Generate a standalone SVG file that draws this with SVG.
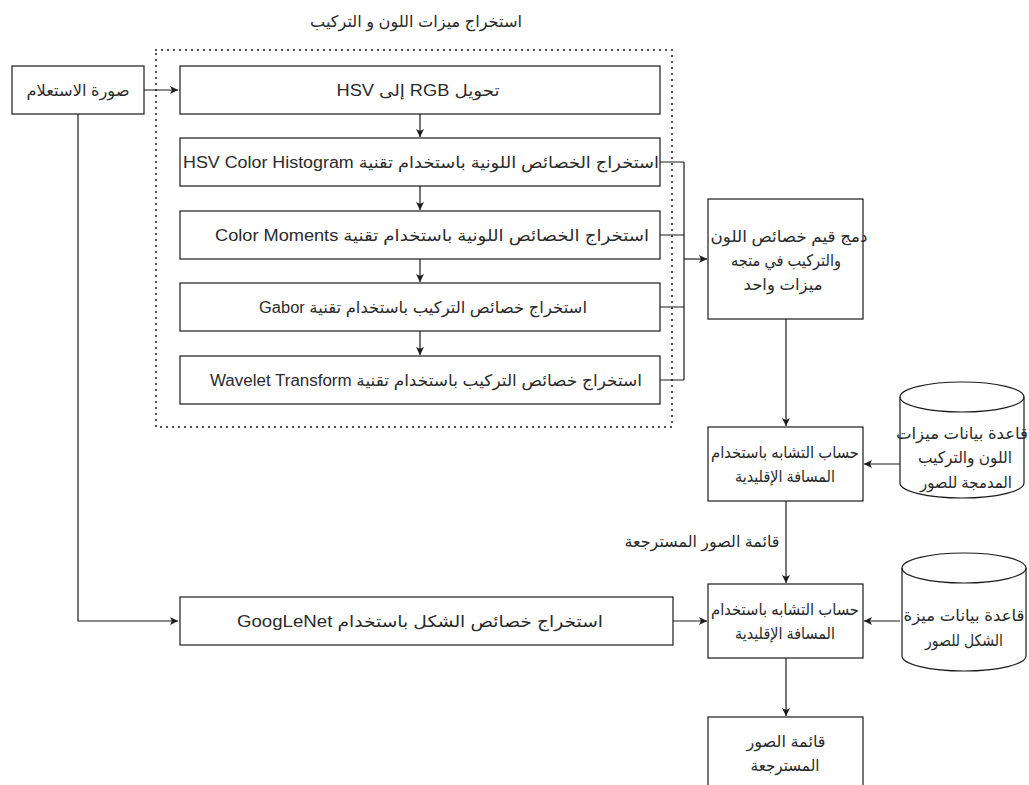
<svg xmlns="http://www.w3.org/2000/svg" width="1029" height="785" viewBox="0 0 1029 785">
<style>
.b{fill:#fff;stroke:#1a1a1a;stroke-width:1.2}
.c{fill:none;stroke:#1a1a1a;stroke-width:1.2}
.t{font-family:"Liberation Sans","DejaVu Sans",sans-serif;font-size:16px;fill:#2a2a2a;text-anchor:middle;dominant-baseline:central}
</style>
<defs>
<marker id="a" viewBox="0 0 10 10" refX="10" refY="5" markerWidth="8" markerHeight="8" markerUnits="userSpaceOnUse" orient="auto">
<path d="M0,0 L10,5 L0,10 L2.5,5 z" fill="#1a1a1a"/>
</marker>
</defs>
<rect width="1029" height="785" fill="#fff"/>
<g id="container">
<rect x="156" y="50" width="516" height="377" fill="none" stroke="#1a1a1a" stroke-width="2" stroke-dasharray="0 6" stroke-linecap="round"/>
<text class="t" x="416" y="21" direction="rtl" textLength="212" lengthAdjust="spacingAndGlyphs">استخراج ميزات اللون و التركيب</text>
</g>
<g id="connectors">
<path class="c" d="M144,90 H178" marker-end="url(#a)"/>
<path class="c" d="M78,114 V621 H178" marker-end="url(#a)"/>
<path class="c" d="M420,114 V137" marker-end="url(#a)"/>
<path class="c" d="M420,186 V210" marker-end="url(#a)"/>
<path class="c" d="M420,259 V282" marker-end="url(#a)"/>
<path class="c" d="M420,331 V355" marker-end="url(#a)"/>
<path class="c" d="M660,162 H684 M660,235 H684 M660,307 H684 M660,380 H684 M684,162 V380"/>
<path class="c" d="M684,259 H707" marker-end="url(#a)"/>
<path class="c" d="M786,319 V426" marker-end="url(#a)"/>
<path class="c" d="M786,501 V583" marker-end="url(#a)"/>
<text class="t" x="702" y="541" direction="rtl" textLength="155" lengthAdjust="spacingAndGlyphs">قائمة الصور المسترجعة</text>
<path class="c" d="M673,621 H707" marker-end="url(#a)"/>
<path class="c" d="M786,658 V716" marker-end="url(#a)"/>
<path class="c" d="M900,464 H864" marker-end="url(#a)"/>
<path class="c" d="M900,621 H864" marker-end="url(#a)"/>
</g>
<g id="query">
<rect class="b" x="12" y="66" width="132" height="48"/>
<text class="t" x="78" y="90" direction="rtl" textLength="103" lengthAdjust="spacingAndGlyphs">صورة الاستعلام</text>
</g>
<g id="rgb2hsv">
<rect class="b" x="180" y="66" width="480" height="48"/>
<text class="t" x="418" y="90" direction="rtl" textLength="163" lengthAdjust="spacingAndGlyphs">تحويل RGB إلى HSV</text>
</g>
<g id="histogram">
<rect class="b" x="180" y="138" width="480" height="48"/>
<text class="t" x="421" y="162" direction="rtl" textLength="476" lengthAdjust="spacingAndGlyphs">استخراج الخصائص اللونية باستخدام تقنية HSV Color Histogram</text>
</g>
<g id="moments">
<rect class="b" x="180" y="211" width="480" height="48"/>
<text class="t" x="432" y="235" direction="rtl" textLength="434" lengthAdjust="spacingAndGlyphs">استخراج الخصائص اللونية باستخدام تقنية Color Moments</text>
</g>
<g id="gabor">
<rect class="b" x="180" y="283" width="480" height="48"/>
<text class="t" x="423" y="307" direction="rtl" textLength="328" lengthAdjust="spacingAndGlyphs">استخراج خصائص التركيب باستخدام تقنية Gabor</text>
</g>
<g id="wavelet">
<rect class="b" x="180" y="356" width="480" height="48"/>
<text class="t" x="426" y="380" direction="rtl" textLength="432" lengthAdjust="spacingAndGlyphs">استخراج خصائص التركيب باستخدام تقنية Wavelet Transform</text>
</g>
<g id="googlenet">
<rect class="b" x="180" y="597" width="493" height="48"/>
<text class="t" x="420" y="621" direction="rtl" textLength="366" lengthAdjust="spacingAndGlyphs">استخراج خصائص الشكل باستخدام GoogLeNet</text>
</g>
<g id="combine">
<rect class="b" x="708" y="199" width="155" height="120"/>
<text class="t" x="789" y="236" direction="rtl" textLength="157" lengthAdjust="spacingAndGlyphs">دمج قيم خصائص اللون</text>
<text class="t" x="786" y="260" direction="rtl" textLength="110" lengthAdjust="spacingAndGlyphs">والتركيب في متجه</text>
<text class="t" x="783" y="284" direction="rtl" textLength="79" lengthAdjust="spacingAndGlyphs">ميزات واحد</text>
</g>
<g id="similarity1">
<rect class="b" x="708" y="427" width="155" height="74"/>
<text class="t" x="785" y="452" direction="rtl" textLength="148" lengthAdjust="spacingAndGlyphs">حساب التشابه باستخدام</text>
<text class="t" x="785" y="476" direction="rtl" textLength="100" lengthAdjust="spacingAndGlyphs">المسافة الإقليدية</text>
</g>
<g id="similarity2">
<rect class="b" x="708" y="584" width="155" height="74"/>
<text class="t" x="785" y="609" direction="rtl" textLength="148" lengthAdjust="spacingAndGlyphs">حساب التشابه باستخدام</text>
<text class="t" x="785" y="633" direction="rtl" textLength="100" lengthAdjust="spacingAndGlyphs">المسافة الإقليدية</text>
</g>
<g id="result">
<rect class="b" x="708" y="717" width="155" height="74"/>
<text class="t" x="786" y="741" direction="rtl" textLength="79" lengthAdjust="spacingAndGlyphs">قائمة الصور</text>
<text class="t" x="785" y="765" direction="rtl" textLength="69" lengthAdjust="spacingAndGlyphs">المسترجعة</text>
</g>
<g id="db1">
<path class="b" d="M900,397 A62,15 0 0 1 1024,397 V483 A62,15 0 0 1 900,483 Z"/>
<path class="c" d="M900,397 A62,15 0 0 0 1024,397"/>
<text class="t" x="962" y="433" direction="rtl" textLength="132" lengthAdjust="spacingAndGlyphs">قاعدة بيانات ميزات</text>
<text class="t" x="965" y="457" direction="rtl" textLength="94" lengthAdjust="spacingAndGlyphs">اللون والتركيب</text>
<text class="t" x="966" y="482" direction="rtl" textLength="92" lengthAdjust="spacingAndGlyphs">المدمجة للصور</text>
</g>
<g id="db2">
<path class="b" d="M902,568 A62,15 0 0 1 1026,568 V656 A62,15 0 0 1 902,656 Z"/>
<path class="c" d="M902,568 A62,15 0 0 0 1026,568"/>
<text class="t" x="964" y="615" direction="rtl" textLength="121" lengthAdjust="spacingAndGlyphs">قاعدة بيانات ميزة</text>
<text class="t" x="964" y="640" direction="rtl" textLength="78" lengthAdjust="spacingAndGlyphs">الشكل للصور</text>
</g>
</svg>
